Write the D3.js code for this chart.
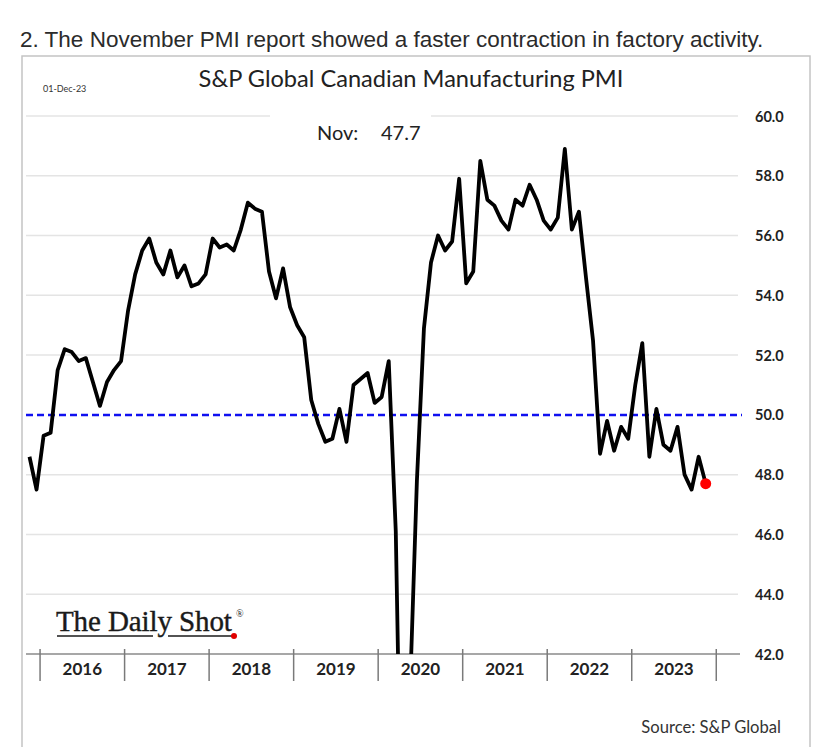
<!DOCTYPE html>
<html>
<head>
<meta charset="utf-8">
<script src="https://cdn.jsdelivr.net/npm/d3@7/dist/d3.min.js"></script>
<style>
  html, body { margin: 0; padding: 0; background: #fff; }
  svg { display: block; }
</style>
</head>
<body>
<svg id="chart" width="821" height="747"></svg>
<script>
// ---- Data (monthly, Nov 2015 – Nov 2023) ----
const startYear = 2015, startMonth = 10; // Nov 2015 (0-based month)
const pmiValues = [
  48.6, 47.5,                                                       // 2015 Nov-Dec
  49.3, 49.4, 51.5, 52.2, 52.1, 51.8, 51.9, 51.1, 50.3, 51.1, 51.5, 51.8, // 2016
  53.5, 54.7, 55.5, 55.9, 55.1, 54.7, 55.5, 54.6, 55.0, 54.3, 54.4, 54.7, // 2017
  55.9, 55.6, 55.7, 55.5, 56.2, 57.1, 56.9, 56.8, 54.8, 53.9, 54.9, 53.6, // 2018
  53.0, 52.6, 50.5, 49.7, 49.1, 49.2, 50.2, 49.1, 51.0, 51.2, 51.4, 50.4, // 2019
  50.6, 51.8, 46.1, 33.0, 40.6, 47.8, 52.9, 55.1, 56.0, 55.5, 55.8, 57.9, // 2020
  54.4, 54.8, 58.5, 57.2, 57.0, 56.5, 56.2, 57.2, 57.0, 57.7, 57.2, 56.5, // 2021
  56.2, 56.6, 58.9, 56.2, 56.8, 54.6, 52.5, 48.7, 49.8, 48.8, 49.6, 49.2, // 2022
  51.0, 52.4, 48.6, 50.2, 49.0, 48.8, 49.6, 48.0, 47.5, 48.6, 47.7        // 2023
];
const yearLabels = ["2016", "2017", "2018", "2019", "2020", "2021", "2022", "2023"];
const yTicks = [42, 44, 46, 48, 50, 52, 54, 56, 58, 60];
const threshold = 50;
const captionText = "2. The November PMI report showed a faster contraction in factory activity.";
const titleText = "S&P Global Canadian Manufacturing PMI";
const dateText = "01-Dec-23";
const latestLabel = "Nov:";
const latestValue = "47.7";
const sourceText = "Source: S&P Global";

const data = pmiValues.map((v, i) => ({ i, v }));

// ---- Layout ----
const svg = d3.select("#chart");
const x = d3.scaleLinear().domain([0, pmiValues.length - 1]).range([29.5, 705.7]);
const y = d3.scaleLinear().domain([42, 60]).range([654, 116]);
const gridX0 = 26, gridX1 = 738;

// caption
svg.append("text")
  .attr("x", 20).attr("y", 47)
  .attr("font-family", "Liberation Sans, Arial, sans-serif")
  .attr("font-size", 22.5)
  .attr("fill", "#2b2b2b")
  .text(captionText);

// chart box
svg.append("rect")
  .attr("x", 22).attr("y", 56).attr("width", 788).attr("height", 700)
  .attr("fill", "#fff").attr("stroke", "#c4c4c4").attr("stroke-width", 1.5);

// date
svg.append("text")
  .attr("x", 43).attr("y", 92)
  .attr("font-family", "Lato, sans-serif").attr("font-size", 9)
  .attr("fill", "#333").text(dateText);

// title
svg.append("text")
  .attr("x", 411).attr("y", 87).attr("text-anchor", "middle")
  .attr("font-family", "Lato, sans-serif").attr("font-size", 23.6)
  .attr("fill", "#222").text(titleText);

// gridlines
const grid = svg.append("g");
yTicks.filter(t => t !== 42 && t !== threshold).forEach(t => {
  if (t === 60) {
    grid.append("line").attr("x1", gridX0).attr("x2", 270).attr("y1", y(t)).attr("y2", y(t))
      .attr("stroke", "#e4e4e4").attr("stroke-width", 1.5);
    grid.append("line").attr("x1", 431).attr("x2", gridX1).attr("y1", y(t)).attr("y2", y(t))
      .attr("stroke", "#e4e4e4").attr("stroke-width", 1.5);
  } else {
    grid.append("line").attr("x1", gridX0).attr("x2", gridX1).attr("y1", y(t)).attr("y2", y(t))
      .attr("stroke", "#e4e4e4").attr("stroke-width", 1.5);
  }
});

// y-axis labels (right)
const yAxis = d3.axisRight(y).tickValues(yTicks).tickSize(0).tickPadding(0)
  .tickFormat(d3.format(".1f"));
const yg = svg.append("g").attr("transform", "translate(755,0)").call(yAxis);
yg.select(".domain").remove();
yg.selectAll("text")
  .attr("font-family", "Lato, sans-serif").attr("font-size", 14.5)
  .attr("font-weight", "bold").attr("fill", "#222").attr("dy", "0.35em");

// threshold line
svg.append("line")
  .attr("x1", gridX0).attr("x2", 742).attr("y1", y(threshold)).attr("y2", y(threshold))
  .attr("stroke", "#1010f0").attr("stroke-width", 2.5).attr("stroke-dasharray", "7,4");

// x-axis
svg.append("line")
  .attr("x1", gridX0).attr("x2", 740).attr("y1", y(42)).attr("y2", y(42))
  .attr("stroke", "#8a8a8a").attr("stroke-width", 1.5);
const firstJan = 12 - startMonth; // index of Jan 2016
const boundaries = d3.range(yearLabels.length + 1).map(k => firstJan - 0.5 + 12 * k);
svg.append("g").selectAll("line").data(boundaries).join("line")
  .attr("x1", d => x(d)).attr("x2", d => x(d))
  .attr("y1", 649).attr("y2", 681)
  .attr("stroke", "#7a7a7a").attr("stroke-width", 1.5);
svg.append("g").selectAll("text").data(yearLabels).join("text")
  .attr("x", (d, k) => x(firstJan - 0.5 + 12 * k + 6))
  .attr("y", 675).attr("text-anchor", "middle")
  .attr("font-family", "Lato, sans-serif").attr("font-size", 17)
  .attr("font-weight", "bold").attr("fill", "#222")
  .text(d => d);

// clip for line
svg.append("clipPath").attr("id", "plotclip")
  .append("rect").attr("x", 0).attr("y", 90).attr("width", 821).attr("height", y(42) - 90);

const line = d3.line().x(d => x(d.i)).y(d => y(d.v)).curve(d3.curveLinear);
svg.append("path").datum(data)
  .attr("clip-path", "url(#plotclip)")
  .attr("d", line)
  .attr("fill", "none").attr("stroke", "#000").attr("stroke-width", 3.8)
  .attr("stroke-linejoin", "round");

// latest dot
const last = data[data.length - 1];
svg.append("circle").attr("cx", x(last.i)).attr("cy", y(last.v)).attr("r", 5.5)
  .attr("fill", "#ff0000");

// latest label
svg.append("text").attr("x", 317).attr("y", 140)
  .attr("font-family", "Lato, sans-serif").attr("font-size", 20).attr("fill", "#222")
  .text(latestLabel);
svg.append("text").attr("x", 381).attr("y", 140)
  .attr("font-family", "Lato, sans-serif").attr("font-size", 20).attr("fill", "#222")
  .text(latestValue);

// logo
const logo = svg.append("g");
logo.append("text").attr("x", 56).attr("y", 631)
  .attr("font-family", "Liberation Serif, Times New Roman, serif").attr("font-size", 29)
  .attr("letter-spacing", -0.1).attr("fill", "#1a1a1a")
  .attr("stroke", "#1a1a1a").attr("stroke-width", 0.4)
  .text("The Daily Shot");
logo.append("text").attr("x", 236).attr("y", 617)
  .attr("font-family", "Liberation Serif, serif").attr("font-size", 10).attr("fill", "#1a1a1a")
  .text("®");
logo.append("line").attr("x1", 57).attr("x2", 153).attr("y1", 636).attr("y2", 636)
  .attr("stroke", "#1a1a1a").attr("stroke-width", 1.3);
logo.append("line").attr("x1", 168).attr("x2", 232).attr("y1", 636).attr("y2", 636)
  .attr("stroke", "#1a1a1a").attr("stroke-width", 1.3);
logo.append("circle").attr("cx", 234).attr("cy", 636).attr("r", 3).attr("fill", "#e00000");

// source
svg.append("text").attr("x", 781).attr("y", 733).attr("text-anchor", "end")
  .attr("font-family", "Lato, sans-serif").attr("font-size", 16.6).attr("fill", "#333")
  .text(sourceText);
</script>
</body>
</html>
